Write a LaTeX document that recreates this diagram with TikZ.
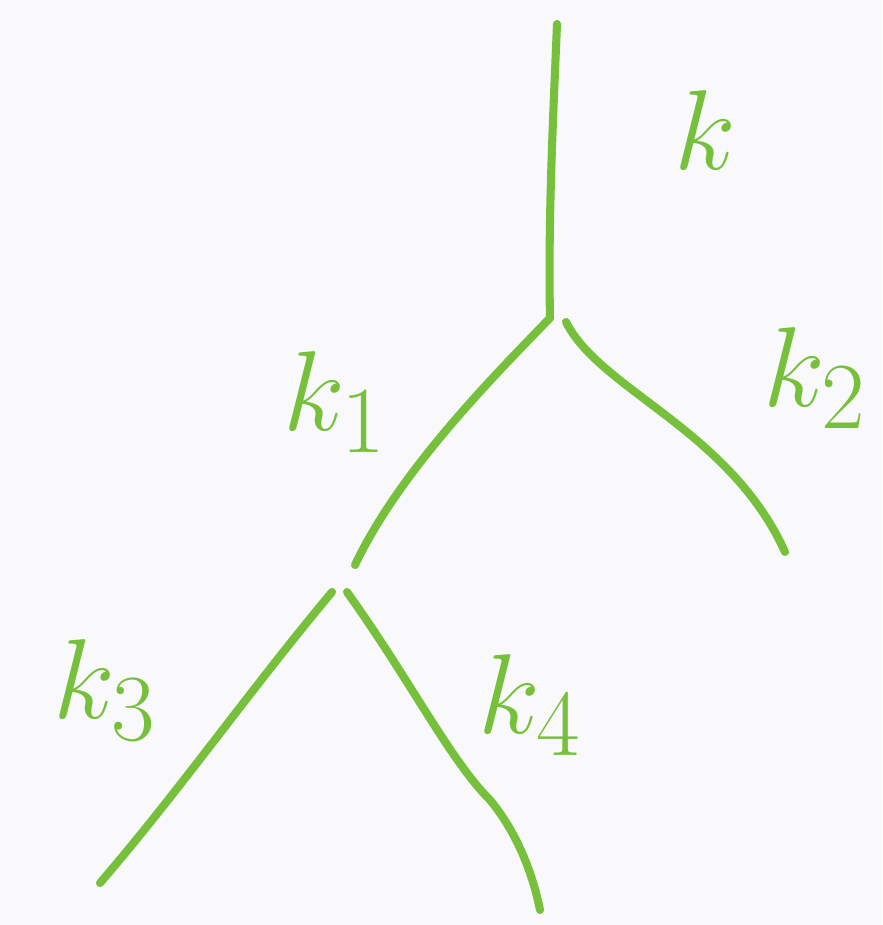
\documentclass[tikz,border=0pt]{standalone}
\usetikzlibrary{calc}
\definecolor{pen}{RGB}{118,192,60}
\definecolor{paper}{RGB}{249,249,251}
\tikzset{
  branch/.style={draw=pen, line width=4.6pt, line cap=round},
  lab/.style={text=pen, font=\Huge, scale=2.6, inner sep=0pt}
}
\begin{document}
\begin{tikzpicture}[x=0.02cm,y=-0.02cm]
\fill[paper] (0,0) rectangle (882,925);
\useasboundingbox (0,0) rectangle (882,925);
\coordinate (top) at (557,24);
\coordinate (v1) at (550,318);
\coordinate (v1r) at (566,322);
\coordinate (e1) at (355,565);
\coordinate (e2) at (785,552);
\coordinate (v2l) at (332,592);
\coordinate (v2r) at (347,592);
\coordinate (e3) at (100,883);
\coordinate (e4) at (540,910);
\coordinate (m4) at (490,800);
\draw[branch] (top) .. controls (553,120) and (548,220) .. (v1);
\draw[branch] (v1) .. controls (495,375) and (400,470) .. (e1);
\draw[branch] (v1r) .. controls (600,390) and (730,430) .. (e2);
\draw[branch] (v2l) .. controls (250,690) and (180,790) .. (e3);
\draw[branch] (v2r) .. controls (410,680) and (450,760) .. (m4) .. controls (515,830) and (532,870) .. (e4);
\node[lab] (lk) at (705,130) {$k$};
\node[lab] (lk2) at (815,378) {$k_2$};
\node[lab] (lk1) at (335,402) {$k_1$};
\node[lab] (lk3) at (105,690) {$k_3$};
\node[lab] (lk4) at (530,705) {$k_4$};
\end{tikzpicture}
\end{document}
